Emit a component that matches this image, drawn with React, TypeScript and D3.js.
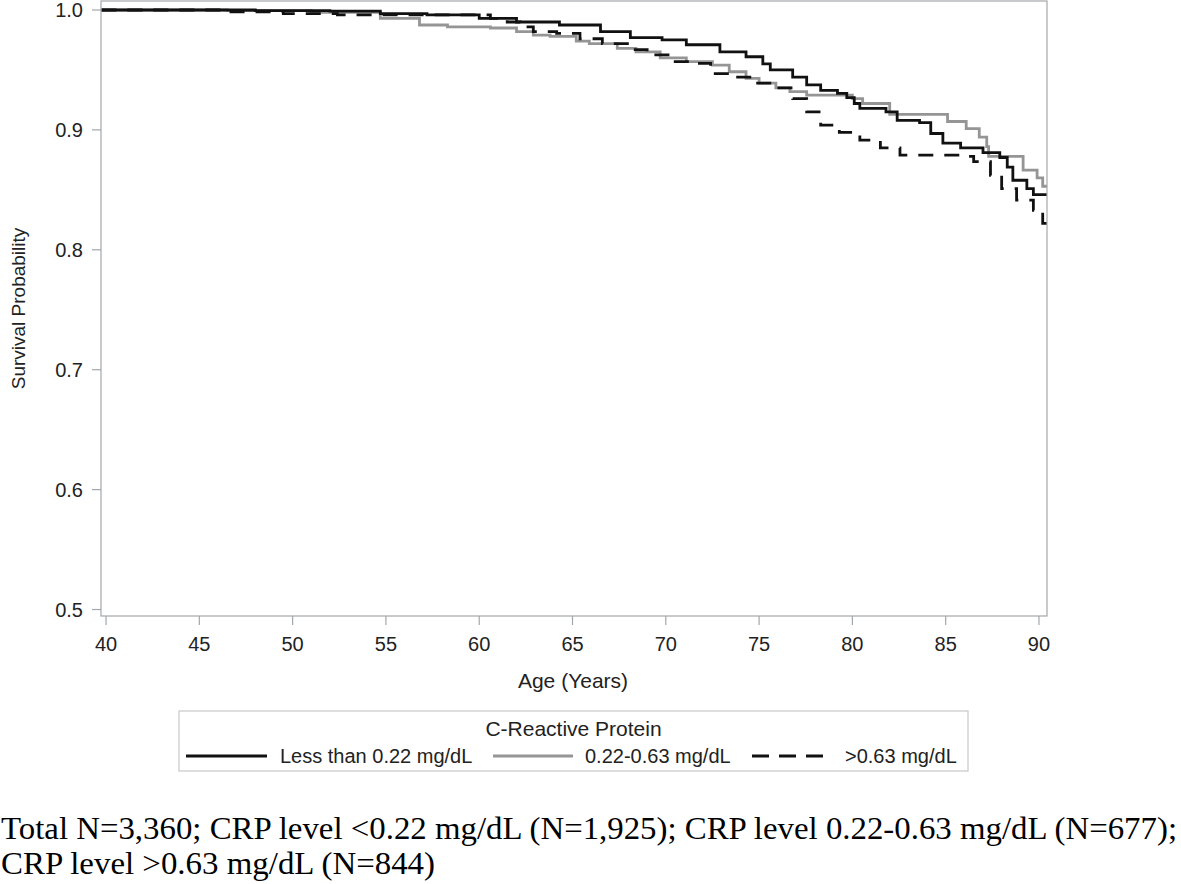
import React from "react";
import * as d3 from "d3";

// ---- data ----
const xTicks = [40, 45, 50, 55, 60, 65, 70, 75, 80, 85, 90];
const yTicks = [0.5, 0.6, 0.7, 0.8, 0.9, 1.0];

const lowAge = [39.75, 48, 52, 54.7, 57.2, 60, 62, 64.3, 66.5, 68.1, 69.8, 71.1, 72.9, 74.3, 75.2, 75.6, 76.8, 77.55, 78.3, 79.2, 79.7, 80.1, 80.4, 81.8, 82.4, 83.6, 84.2, 84.85, 85.8, 87.0, 87.9, 88.3, 88.6, 89.35, 89.7, 90.45];
const lowSurv = [1.0, 0.9995, 0.999, 0.997, 0.996, 0.993, 0.99, 0.9875, 0.982, 0.977, 0.975, 0.971, 0.965, 0.961, 0.955, 0.95, 0.944, 0.9375, 0.933, 0.9305, 0.927, 0.922, 0.918, 0.915, 0.908, 0.906, 0.897, 0.889, 0.885, 0.881, 0.877, 0.869, 0.858, 0.851, 0.846, 0.846];

const midAge = [39.75, 46.5, 51, 54.7, 56.8, 58.3, 60.6, 62.0, 62.9, 63.8, 65.2, 65.9, 67.4, 68.4, 69.7, 71.1, 72.5, 73.4, 74.3, 75.0, 75.9, 76.65, 77.55, 80.0, 80.55, 82.0, 85.1, 86.1, 86.8, 87.2, 87.3, 89.15, 89.9, 90.2, 90.45];
const midSurv = [1.0, 0.9995, 0.998, 0.993, 0.9875, 0.986, 0.985, 0.982, 0.979, 0.978, 0.974, 0.972, 0.968, 0.965, 0.96, 0.957, 0.954, 0.9485, 0.943, 0.939, 0.935, 0.932, 0.929, 0.926, 0.922, 0.913, 0.907, 0.901, 0.894, 0.886, 0.878, 0.8665, 0.86, 0.853, 0.853];

const highAge = [39.75, 46.3, 49.5, 52.4, 60.6, 61.5, 62.2, 62.9, 64.15, 65.4, 66.6, 68.1, 69.0, 70.2, 71.45, 72.4, 73.6, 74.7, 75.9, 76.8, 77.55, 78.3, 79.3, 80.4, 81.5, 82.55, 85.8, 86.5, 87.4, 88.0, 88.8, 89.7, 90.2, 90.45];
const highSurv = [1.0, 0.9985, 0.997, 0.996, 0.993, 0.99, 0.986, 0.982, 0.9805, 0.976, 0.972, 0.967, 0.9625, 0.957, 0.9555, 0.947, 0.944, 0.939, 0.935, 0.926, 0.915, 0.904, 0.898, 0.8915, 0.885, 0.879, 0.878, 0.8735, 0.862, 0.851, 0.8415, 0.833, 0.822, 0.822];

const seriesNames = ["Less than 0.22 mg/dL", "0.22-0.63 mg/dL", ">0.63 mg/dL"];
const legendTitle = "C-Reactive Protein";
const xLabel = "Age (Years)";
const yLabel = "Survival Probability";
const footLine1 = "Total N=3,360; CRP level <0.22 mg/dL (N=1,925); CRP level 0.22-0.63 mg/dL (N=677);";
const footLine2 = "CRP level >0.63 mg/dL (N=844)";

// ---- layout ----
const W = 1181;
const H = 884;
const plot = { left: 101, right: 1047, top: 1, bottom: 616 };
const frameColor = "#a3a7ab";
const sans = "Arial, 'Liberation Sans', Helvetica, sans-serif";
const serif = "'Times New Roman', 'Liberation Serif', serif";

const styles = [
  { color: "#111111", dash: undefined as string | undefined, legendDash: undefined as string | undefined, width: 2.8 },
  { color: "#959595", dash: undefined as string | undefined, legendDash: undefined as string | undefined, width: 2.8 },
  { color: "#111111", dash: "15,11", legendDash: "17,10", width: 2.8 },
];

export default function App() {
  const x = d3.scaleLinear().domain([39.73, 90.43]).range([plot.left, plot.right]);
  const y = d3.scaleLinear().domain([0.4946, 1.0075]).range([plot.bottom, plot.top]);

  const line = d3
    .line<[number, number]>()
    .x((d) => x(d[0]))
    .y((d) => y(d[1]))
    .curve(d3.curveStepAfter);

  const series = [
    d3.zip(lowAge, lowSurv) as [number, number][],
    d3.zip(midAge, midSurv) as [number, number][],
    d3.zip(highAge, highSurv) as [number, number][],
  ];

  // legend layout
  const legend = { left: 179, right: 968, top: 711, bottom: 771 };
  const items = [
    { x1: 186, x2: 267, tx: 280 },
    { x1: 493, x2: 573, tx: 585 },
    { x1: 752, x2: 823, tx: 845 },
  ];
  const itemY = 756;

  return (
    <div style={{ position: "fixed", left: 0, top: 0, width: W, height: H, background: "#fff" }}>
      <svg width={W} height={H} style={{ display: "block" }}>
        <rect x={0} y={0} width={W} height={H} fill="#fff" />
        <defs>
          <clipPath id="plotClip">
            <rect x={plot.left} y={plot.top} width={plot.right - plot.left} height={plot.bottom - plot.top} />
          </clipPath>
        </defs>

        {/* curves */}
        <g clipPath="url(#plotClip)">
          {[1, 0, 2].map((i) => (
            <path
              key={i}
              d={line(series[i]) || ""}
              fill="none"
              stroke={styles[i].color}
              strokeWidth={styles[i].width}
              strokeDasharray={styles[i].dash}
            />
          ))}
        </g>

        {/* frame */}
        <rect
          x={plot.left}
          y={plot.top}
          width={plot.right - plot.left}
          height={plot.bottom - plot.top}
          fill="none"
          stroke={frameColor}
          strokeWidth={1.2}
        />

        {/* y axis */}
        {yTicks.map((t) => (
          <g key={t}>
            <line x1={plot.left - 9} x2={plot.left} y1={y(t)} y2={y(t)} stroke={frameColor} strokeWidth={1.2} />
            <text
              x={plot.left - 18}
              y={y(t)}
              dy="0.36em"
              textAnchor="end"
              fontFamily={sans}
              fontSize={20}
              fill="#222"
            >
              {t.toFixed(1)}
            </text>
          </g>
        ))}

        {/* x axis */}
        {xTicks.map((t) => (
          <g key={t}>
            <line x1={x(t)} x2={x(t)} y1={plot.bottom} y2={plot.bottom + 9} stroke={frameColor} strokeWidth={1.2} />
            <text x={x(t)} y={651} textAnchor="middle" fontFamily={sans} fontSize={20} fill="#222">
              {t}
            </text>
          </g>
        ))}

        <text x={573} y={688} textAnchor="middle" fontFamily={sans} fontSize={21} fill="#222">
          {xLabel}
        </text>
        <text
          transform={`translate(25, ${(plot.top + plot.bottom) / 2}) rotate(-90)`}
          textAnchor="middle"
          fontFamily={sans}
          fontSize={19}
          fill="#222"
        >
          {yLabel}
        </text>

        {/* legend */}
        <rect
          x={legend.left}
          y={legend.top}
          width={legend.right - legend.left}
          height={legend.bottom - legend.top}
          fill="#fff"
          stroke="#c8c8c8"
          strokeWidth={1.2}
        />
        <text
          x={(legend.left + legend.right) / 2}
          y={736}
          textAnchor="middle"
          fontFamily={sans}
          fontSize={21}
          fill="#222"
        >
          {legendTitle}
        </text>
        {items.map((it, i) => (
          <g key={i}>
            <line
              x1={it.x1}
              x2={it.x2}
              y1={itemY}
              y2={itemY}
              stroke={styles[i].color}
              strokeWidth={styles[i].width}
              strokeDasharray={styles[i].legendDash}
            />
            <text x={it.tx} y={itemY} dy="0.36em" fontFamily={sans} fontSize={20} fill="#222">
              {seriesNames[i]}
            </text>
          </g>
        ))}

        {/* footnote */}
        <text x={1} y={839} fontFamily={serif} fontSize={31} fill="#000" textLength={1176} lengthAdjust="spacingAndGlyphs">
          {footLine1}
        </text>
        <text x={1} y={874} fontFamily={serif} fontSize={31} fill="#000" textLength={434} lengthAdjust="spacingAndGlyphs">
          {footLine2}
        </text>
      </svg>
    </div>
  );
}
